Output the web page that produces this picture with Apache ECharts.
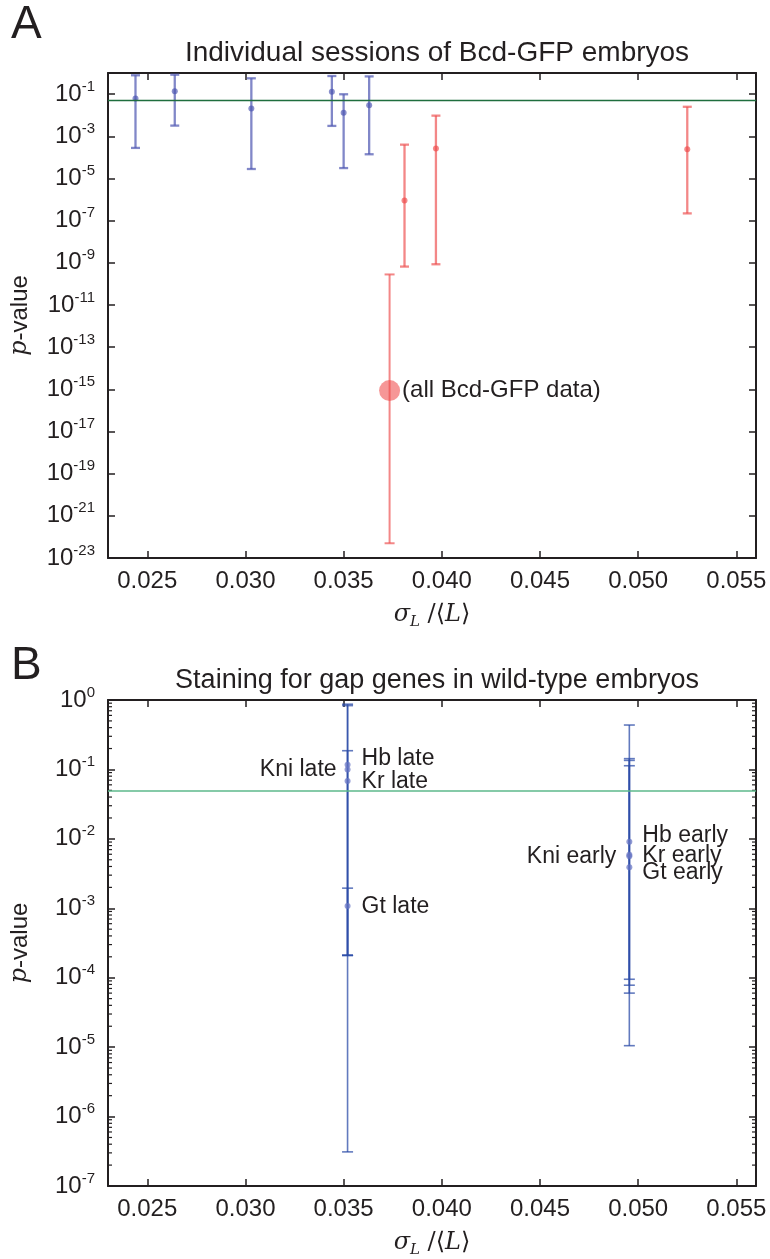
<!DOCTYPE html>
<html><head><meta charset="utf-8">
<script src="https://cdn.jsdelivr.net/npm/echarts@6/dist/echarts.min.js"></script>
<style>html,body{margin:0;padding:0;background:#fff}#c{width:770px;height:1259px}</style>
</head><body><div id="c"></div>
<script>
// ---------- data ----------
const threshold = 0.05;
const xRange = [0.023, 0.056];
const xTicks = [0.025, 0.030, 0.035, 0.040, 0.045, 0.050, 0.055];

// Panel A: individual sessions (p-values)
const aSessionX  = [0.0244, 0.0264, 0.0303, 0.0344, 0.0350, 0.0363, 0.0381, 0.0397, 0.0525];
const aSessionP  = [0.061, 0.136, 0.021, 0.13, 0.0132, 0.0295, 9e-7, 2.6e-4, 2.4e-4];
const aSessionLo = [2.8e-4, 3.2e-3, 2.8e-5, 3.1e-3, 3.1e-5, 1.4e-4, 6.6e-10, 8.5e-10, 2.2e-7];
const aSessionHi = [0.78, 0.83, 0.56, 0.72, 0.098, 0.69, 4e-4, 9.5e-3, 0.025];
const aAllX = [0.03734], aAllP = [8.7e-16], aAllLo = [5e-23], aAllHi = [2.8e-10];
const aAllLabel = '(all Bcd-GFP data)';
const aDecadeRange = [-23, 0];   // 10^-23 .. 10^0

// Panel B: gap genes (p-values)
const bNames = ['Hb late', 'Kni late', 'Kr late', 'Gt late', 'Hb early', 'Kni early', 'Kr early', 'Gt early'];
const bX  = [0.0352, 0.0352, 0.0352, 0.0352, 0.04955, 0.04955, 0.04955, 0.04955];
const bP  = [0.117, 0.100, 0.068, 1.08e-3, 9.1e-3, 5.6e-3, 5.9e-3, 3.9e-3];
const bLo = [2.1e-4, 3.1e-7, 2.1e-4, 2.1e-4, 7.8e-5, 1.05e-5, 6e-5, 9.5e-5];
const bHi = [0.186, 0.87, 0.83, 1.95e-3, 0.143, 0.436, 0.113, 0.135];
const bYRange = [1e-7, 1];

// ---------- styles ----------
const FONT = '"Liberation Sans", Arial, Helvetica, sans-serif';
const SERIF = '"DejaVu Serif", "Liberation Serif", serif';
const INK = '#231f20';
const bLabelLayout = {
  'Hb late':  {pos: 'right', dist: 11, dy: -6},
  'Kni late': {pos: 'left',  dist: 8,  dy: 0},
  'Kr late':  {pos: 'right', dist: 11, dy: 1},
  'Gt late':  {pos: 'right', dist: 11, dy: 1},
  'Hb early': {pos: 'right', dist: 10, dy: -6},
  'Kni early':{pos: 'left',  dist: 10, dy: 0},
  'Kr early': {pos: 'right', dist: 10, dy: 1},
  'Gt early': {pos: 'right', dist: 10, dy: 5}
};

const grids = [
  {left: 108, top: 73, width: 648, height: 485},
  {left: 108, top: 700, width: 648, height: 487}
];

// panel A uses a decade (log10) value axis: the log scale cannot resolve 1e-23
const lg = v => Math.log10(v);

const powRich = {
  b: {fontSize: 24, lineHeight: 30, fontFamily: FONT, color: INK},
  s: {fontSize: 15, lineHeight: 20, verticalAlign: 'top', fontFamily: FONT, color: INK}
};
const powText = e => '{b|10}{s|' + e + '}';

const axisLineStyle = {show: true, onZero: false, lineStyle: {color: INK, width: 2}};
const tickStyle = {show: true, inside: true, length: 7, lineStyle: {color: INK, width: 1.5}};
const pointLabel = {fontSize: 24, fontFamily: FONT, color: INK, opacity: 1, textBorderWidth: 0};

function xAxes(gridIndex) {
  return [
    {type: 'value', gridIndex, position: 'bottom', min: xRange[0], max: xRange[1],
     axisLine: axisLineStyle, splitLine: {show: false},
     axisTick: Object.assign({customValues: xTicks}, tickStyle),
     axisLabel: {customValues: xTicks, margin: 11, fontSize: 24, fontFamily: FONT, color: INK,
                 formatter: v => v.toFixed(3)},
     name: '{s|σ}{sub|L}{n| /⟨}{s|L}{n|⟩}', nameLocation: 'middle', nameGap: 42,
     nameTextStyle: {rich: {
       s: {fontSize: 24, fontStyle: 'italic', fontFamily: SERIF, color: INK, lineHeight: 30},
       n: {fontSize: 24, fontFamily: SERIF, color: INK, lineHeight: 30},
       sub: {fontSize: 15, fontStyle: 'italic', fontFamily: SERIF, color: INK, lineHeight: 16, verticalAlign: 'bottom'}
     }}},
    {type: 'value', gridIndex, position: 'top', min: xRange[0], max: xRange[1],
     axisLine: axisLineStyle, splitLine: {show: false},
     axisTick: Object.assign({customValues: xTicks}, tickStyle),
     axisLabel: {show: false}}
  ];
}
const yName = {
  name: '{i|p}{n|-value}', nameLocation: 'middle', nameGap: 76,
  nameTextStyle: {rich: {
    i: {fontSize: 24, fontStyle: 'italic', fontFamily: SERIF, color: INK},
    n: {fontSize: 24, fontFamily: FONT, color: INK}
  }}
};
const yAxesA = [
  Object.assign({type: 'value', gridIndex: 0, position: 'left', min: aDecadeRange[0], max: aDecadeRange[1], interval: 2,
   axisLine: axisLineStyle, splitLine: {show: false}, axisTick: tickStyle,
   axisLabel: {margin: 13, rich: powRich, formatter: v => (Math.abs(v) % 2 === 1 ? powText(v) : '')}}, yName),
  {type: 'value', gridIndex: 0, position: 'right', min: aDecadeRange[0], max: aDecadeRange[1], interval: 2,
   axisLine: axisLineStyle, splitLine: {show: false}, axisTick: tickStyle, axisLabel: {show: false}}
];
const yAxesB = [
  Object.assign({type: 'log', logBase: 10, gridIndex: 1, position: 'left', min: bYRange[0], max: bYRange[1], interval: 1,
   axisLine: axisLineStyle, splitLine: {show: false}, axisTick: tickStyle,
   axisLabel: {margin: 13, rich: powRich, formatter: v => powText(Math.round(Math.log10(v)))}}, yName),
  {type: 'log', logBase: 10, gridIndex: 1, position: 'right', min: bYRange[0], max: bYRange[1], interval: 1,
   axisLine: axisLineStyle, splitLine: {show: false}, axisTick: tickStyle, axisLabel: {show: false}}
];

function errorBars(xIdx, yIdx, xs, lo, hi, colorFn, width, capHalf, z) {
  return {
    type: 'custom', xAxisIndex: xIdx, yAxisIndex: yIdx, z, silent: true, clip: true,
    encode: {x: 0, y: [1, 2]},
    data: xs.map((x, i) => [x, lo[i], hi[i], i]),
    renderItem: (params, api) => {
      const x = api.value(0);
      const a = api.coord([x, api.value(1)]);
      const b = api.coord([x, api.value(2)]);
      const col = colorFn(api.value(3));
      const st = {stroke: col, lineWidth: width};
      return {type: 'group', children: [
        {type: 'line', shape: {x1: a[0], y1: a[1], x2: b[0], y2: b[1]}, style: st},
        {type: 'line', shape: {x1: a[0] - capHalf, y1: a[1], x2: a[0] + capHalf, y2: a[1]}, style: st},
        {type: 'line', shape: {x1: b[0] - capHalf, y1: b[1], x2: b[0] + capHalf, y2: b[1]}, style: st}
      ]};
    }
  };
}

// minor ticks for the log axis of panel B (2..9 x 10^k)
const bMinorTicks = [];
for (let e = -7; e < 0; e++) for (let m = 2; m <= 9; m++) bMinorTicks.push(m * Math.pow(10, e));

const minorTickSeries = {
  type: 'custom', xAxisIndex: 2, yAxisIndex: 2, silent: true, z: 1,
  data: bMinorTicks.map(v => [xRange[0], v]),
  renderItem: (params, api) => {
    const l = api.coord([xRange[0], api.value(1)]);
    const r = api.coord([xRange[1], api.value(1)]);
    const st = {stroke: INK, lineWidth: 1.2};
    return {type: 'group', children: [
      {type: 'line', shape: {x1: l[0], y1: l[1], x2: l[0] + 4, y2: l[1]}, style: st},
      {type: 'line', shape: {x1: r[0] - 4, y1: r[1], x2: r[0], y2: r[1]}, style: st}
    ]};
  }
};

const BLUE_BAR = 'rgba(80,89,179,0.72)', RED_BAR = 'rgba(238,78,78,0.68)';
const BLUE_DOT = 'rgba(70,80,175,0.8)', RED_DOT = 'rgba(238,70,70,0.8)';
const isSig = i => aSessionHi[i] < threshold;

const option = {
  animation: false,
  backgroundColor: '#fff',
  textStyle: {fontFamily: FONT},
  title: [
    {text: 'Individual sessions of Bcd-GFP embryos', left: 432, top: 34, textAlign: 'center',
     textStyle: {fontSize: 28, fontWeight: 'normal', color: INK, fontFamily: FONT}},
    {text: 'Staining for gap genes in wild-type embryos', left: 432, top: 662, textAlign: 'center',
     textStyle: {fontSize: 27, fontWeight: 'normal', color: INK, fontFamily: FONT}}
  ],
  graphic: [
    {type: 'text', left: 11, top: 2, style: {text: 'A', fontSize: 46, fill: INK, fontFamily: FONT}},
    {type: 'text', left: 11, top: 643, style: {text: 'B', fontSize: 46, fill: INK, fontFamily: FONT}}
  ],
  grid: grids,
  xAxis: [...xAxes(0), ...xAxes(1)],
  yAxis: [...yAxesA, ...yAxesB],
  series: [
    // panel A
    errorBars(0, 0, aSessionX, aSessionLo.map(lg), aSessionHi.map(lg), i => isSig(i) ? RED_BAR : BLUE_BAR, 2.3, 4.5, 3),
    errorBars(0, 0, aAllX, aAllLo.map(lg), aAllHi.map(lg), () => RED_BAR, 2, 5, 3),
    {type: 'scatter', xAxisIndex: 0, yAxisIndex: 0, z: 4, symbolSize: 6,
     data: aSessionX.map((x, i) => ({value: [x, lg(aSessionP[i])],
       itemStyle: {color: isSig(i) ? RED_DOT : BLUE_DOT}})),
     markLine: {silent: true, symbol: 'none', label: {show: false},
       lineStyle: {color: '#1f6e3e', width: 1.3, type: 'solid'}, data: [{yAxis: lg(threshold)}]}},
    {type: 'scatter', xAxisIndex: 0, yAxisIndex: 0, z: 4, symbolSize: 21,
     itemStyle: {color: 'rgba(240,74,74,0.72)'},
     label: Object.assign({show: true, position: 'right', distance: 2, formatter: aAllLabel}, pointLabel),
     data: aAllX.map((x, i) => [x, lg(aAllP[i])])},
    // panel B
    minorTickSeries,
    errorBars(2, 2, bX, bLo, bHi, () => 'rgba(46,78,168,0.75)', 1.6, 5.5, 3),
    {type: 'scatter', xAxisIndex: 2, yAxisIndex: 2, z: 4, symbolSize: 6,
     itemStyle: {color: 'rgba(102,116,196,0.9)'},
     markLine: {silent: true, symbol: 'none', label: {show: false},
       lineStyle: {color: '#5cb98b', width: 1.6, type: 'solid'}, data: [{yAxis: threshold}]},
     data: bNames.map((n, i) => {
       const L = bLabelLayout[n];
       return {name: n, value: [bX[i], bP[i]],
         label: Object.assign({show: true, position: L.pos, distance: L.dist, offset: [0, L.dy],
                 formatter: n}, pointLabel, {fontSize: 23})};
     })}
  ]
};

const chart = echarts.init(document.getElementById('c'), null, {renderer: 'canvas'});
chart.setOption(option);
</script>
</body></html>
